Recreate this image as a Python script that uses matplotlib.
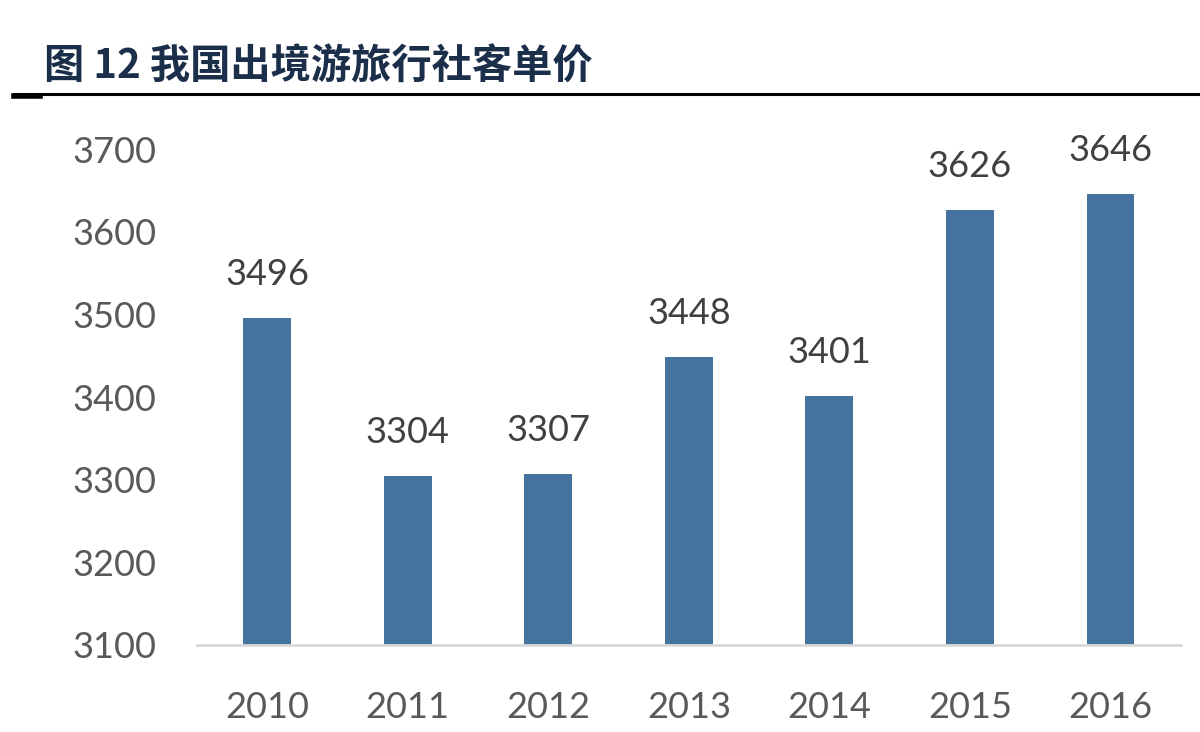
import matplotlib
matplotlib.use("Agg")
import matplotlib.pyplot as plt
from matplotlib.lines import Line2D

years = ["2010", "2011", "2012", "2013", "2014", "2015", "2016"]
price = [3496, 3304, 3307, 3448, 3401, 3626, 3646]
yticks = [3100, 3200, 3300, 3400, 3500, 3600, 3700]

bar_color = "#44749D"
text_gray = "#595959"

fig = plt.figure(figsize=(12, 7.32), dpi=100)
ax = fig.add_axes([0.164, 0.119, 0.82, 0.677])

x = range(len(years))
bars = ax.bar(x, price, width=0.34, color=bar_color, zorder=2)
for xi, v in zip(x, price):
    ax.text(xi, v + 33, str(v), ha="center", va="bottom", fontsize=26,
            family="Lato", color="#404040", clip_on=False)

ax.set_ylim(3100, 3700)
ax.set_xlim(-0.5, len(years) - 0.5)
ax.set_yticks(yticks)
ax.set_xticks(list(x))
ax.set_xticklabels(years)
ax.tick_params(axis="both", length=0, labelsize=26, colors=text_gray)
ax.tick_params(axis="y", pad=29)
ax.tick_params(axis="x", pad=33)
for lab in ax.get_xticklabels() + ax.get_yticklabels():
    lab.set_family("Lato")
for s in ["top", "right", "left"]:
    ax.spines[s].set_visible(False)
ax.spines["bottom"].set_color("#d9d9d9")
ax.spines["bottom"].set_linewidth(2)

# title and rule
fig.text(0.037, 0.893, "图 12 我国出境游旅行社客单价", fontsize=29, fontweight="bold",
         color="#1b2f4b", family=["Noto Sans CJK SC", "DejaVu Sans"], va="baseline")
fig.add_artist(Line2D([0.012, 1.0], [0.871, 0.871], color="black", lw=2.2))
fig.add_artist(Line2D([0.012, 0.033], [0.869, 0.869], color="black", lw=4))

fig.savefig("out.png", dpi=100)
